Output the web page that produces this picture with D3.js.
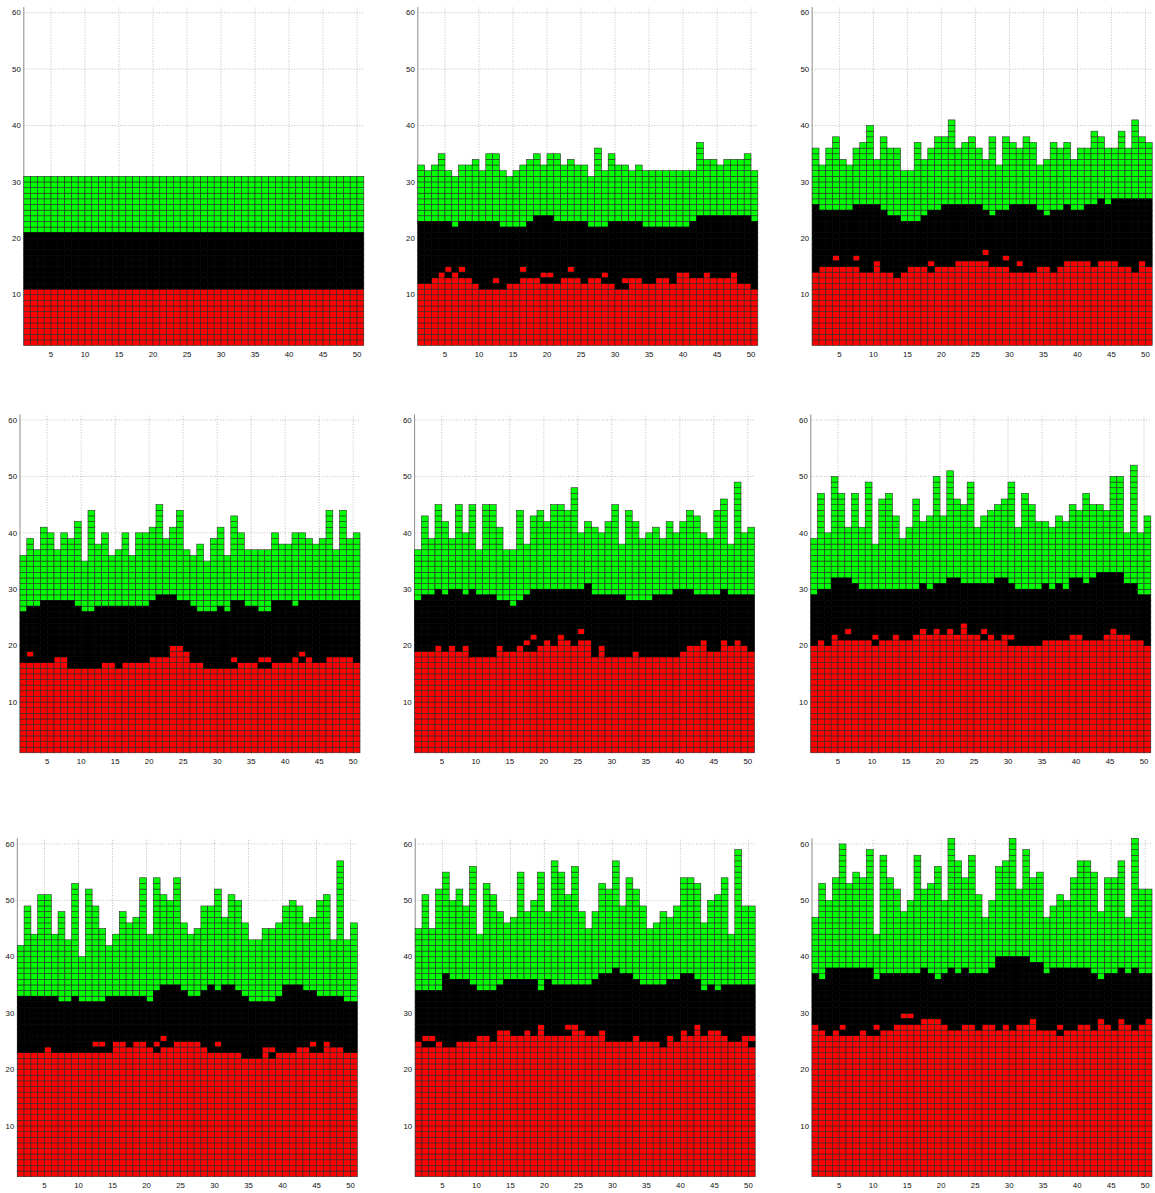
<!DOCTYPE html>
<html><head><meta charset="utf-8">
<script src="https://cdn.jsdelivr.net/npm/d3@7"></script>
<style>body{margin:0;background:#fff}svg{display:block}</style>
</head><body>
<svg id="chart" width="1155" height="1193"></svg>
<script>
// ---------- data ----------
const columns = d3.range(1, 51);
const xTicks = [5, 10, 15, 20, 25, 30, 35, 40, 45, 50];
const yTicks = [10, 20, 30, 40, 50, 60];

// top edge (upper boundary) of the contiguous red stack, per column, per panel
const redTop = [
 [11,11,11,11,11,11,11,11,11,11,11,11,11,11,11,11,11,11,11,11,11,11,11,11,11,11,11,11,11,11,11,11,11,11,11,11,11,11,11,11,11,11,11,11,11,11,11,11,11,11],
 [12,12,13,14,13,14,13,13,12,11,11,11,11,12,12,13,13,13,12,12,12,13,13,13,12,13,13,12,12,11,11,13,13,12,12,13,13,12,14,14,13,13,14,13,13,13,14,12,12,11],
 [14,15,15,15,15,15,15,14,14,16,14,14,13,14,15,15,15,14,15,15,15,16,16,16,16,16,15,15,15,14,14,14,14,15,15,14,15,16,16,16,16,15,16,16,16,15,15,14,16,15],
 [17,17,17,17,17,18,18,16,16,16,16,16,17,17,16,17,17,17,17,18,18,18,20,20,19,17,17,16,16,16,16,16,17,17,17,16,16,17,17,17,18,17,18,17,17,18,18,18,18,17],
 [19,19,19,20,19,20,19,20,18,18,18,18,20,19,19,20,19,19,20,21,20,22,21,20,21,21,18,20,18,18,18,18,19,18,18,18,18,18,18,19,20,20,21,19,19,21,20,21,20,19],
 [20,21,20,22,21,21,21,21,21,20,21,21,22,21,21,22,23,22,23,22,23,22,24,22,22,21,22,21,22,20,20,20,20,20,21,21,21,21,22,22,21,21,21,22,23,22,22,21,21,20],
 [23,23,23,23,24,23,23,23,23,23,23,23,23,23,25,25,24,25,25,24,23,24,24,25,25,25,25,24,23,23,23,23,23,22,22,22,24,24,23,23,23,24,24,23,23,25,24,24,23,23],
 [25,24,24,25,24,24,25,25,25,26,26,25,27,27,26,26,27,26,28,26,26,26,26,28,27,26,26,27,25,25,25,25,26,25,25,25,24,26,25,27,26,28,26,27,27,26,25,25,26,26],
 [28,27,26,27,28,26,26,27,26,26,27,27,28,28,28,28,29,29,29,28,27,27,28,28,27,28,28,27,28,27,28,28,29,27,27,27,28,27,27,28,28,27,29,28,27,29,28,27,28,29]
];
// top edge of the black band (= bottom edge of green)
const blackTop = [
 [21,21,21,21,21,21,21,21,21,21,21,21,21,21,21,21,21,21,21,21,21,21,21,21,21,21,21,21,21,21,21,21,21,21,21,21,21,21,21,21,21,21,21,21,21,21,21,21,21,21],
 [23,23,23,23,23,22,23,23,23,23,23,23,22,22,22,22,23,24,24,24,23,23,23,23,23,22,22,22,23,23,23,23,23,22,22,22,22,22,22,22,23,24,24,24,24,24,24,24,24,23],
 [26,25,25,25,25,25,26,26,26,26,25,24,24,23,23,23,24,25,25,26,26,26,26,26,26,25,24,25,25,26,26,26,26,25,24,25,25,26,25,25,26,26,27,26,27,27,27,27,27,27],
 [26,27,27,28,28,28,28,28,27,26,26,27,27,27,27,27,27,27,27,28,29,29,29,28,28,27,26,26,26,27,26,28,28,27,27,26,26,28,28,28,27,28,28,28,28,28,28,28,28,28],
 [28,29,29,30,29,30,30,29,30,29,29,29,28,28,27,28,29,30,30,30,30,30,30,30,30,31,29,29,29,29,29,28,28,28,28,29,29,29,30,30,30,29,29,29,29,30,29,29,29,29],
 [29,30,30,32,32,32,31,30,30,30,30,30,30,30,30,30,31,30,31,31,32,32,31,31,31,31,31,32,32,31,30,30,30,30,31,30,31,30,32,32,31,32,33,33,33,33,31,31,29,29],
 [33,33,33,33,33,33,32,32,33,32,32,32,32,33,33,33,33,33,33,32,34,35,35,35,34,33,33,34,35,34,35,35,34,33,32,32,32,32,33,35,35,35,34,34,33,33,33,33,32,32],
 [34,34,34,34,37,36,36,36,35,34,34,34,35,36,36,36,36,36,34,36,35,35,35,35,35,35,36,37,37,38,37,37,36,35,35,35,35,36,36,37,37,36,34,35,34,35,35,35,35,35],
 [37,36,38,38,38,38,38,38,38,36,37,37,37,37,37,37,38,37,36,37,38,37,38,37,37,37,38,40,40,40,40,40,39,39,37,38,38,38,38,38,38,37,36,37,37,38,37,38,37,37]
];
// top edge of the green stack
const greenTop = [
 [31,31,31,31,31,31,31,31,31,31,31,31,31,31,31,31,31,31,31,31,31,31,31,31,31,31,31,31,31,31,31,31,31,31,31,31,31,31,31,31,31,31,31,31,31,31,31,31,31,31],
 [33,32,33,35,32,31,33,33,34,32,35,35,32,31,32,33,34,35,33,35,35,33,34,33,33,31,36,32,35,33,33,32,33,32,32,32,32,32,32,32,32,37,34,34,33,34,34,34,35,32],
 [36,33,36,38,34,33,36,37,40,34,38,36,36,32,32,37,34,36,38,38,41,36,37,38,36,34,38,33,38,37,36,38,37,33,34,37,36,37,34,36,36,39,38,36,36,39,36,41,38,37],
 [36,39,37,41,40,37,40,39,42,35,44,38,40,36,37,40,36,40,40,41,45,39,41,44,37,36,38,35,39,41,36,43,40,37,37,37,37,40,38,38,40,40,39,38,39,44,37,44,39,40],
 [37,43,39,45,42,39,45,40,45,37,45,45,41,37,37,44,38,43,44,42,45,45,44,48,40,42,41,40,42,45,38,44,42,39,40,41,39,42,40,42,44,43,40,39,44,46,38,49,40,41],
 [39,47,40,50,47,41,47,41,49,38,46,47,43,39,41,46,42,43,50,43,51,46,45,49,41,43,44,45,46,49,41,47,45,42,42,41,43,42,45,44,47,45,45,44,50,50,40,52,40,43],
 [42,49,44,51,51,44,48,43,53,40,52,49,45,42,44,48,46,47,54,44,54,51,50,54,46,44,45,49,49,52,47,51,50,46,43,43,45,45,46,49,50,49,46,47,50,51,43,57,43,46],
 [45,51,45,52,55,50,52,49,56,44,53,51,48,46,47,55,48,50,55,48,57,55,51,56,48,45,48,53,52,57,49,54,52,49,45,46,48,47,49,54,54,53,46,50,51,54,44,59,49,49],
 [47,53,50,54,60,53,55,54,59,44,58,54,52,48,50,58,52,53,56,50,61,57,54,58,51,47,50,56,57,61,52,59,54,55,47,49,51,50,54,57,57,55,48,54,54,57,47,61,52,52]
];
// isolated red cells inside the black band: [column, row]
const redIslands = [
 [],
 [[5,14],[7,14],[12,12],[16,14],[19,13],[20,13],[23,14],[28,13],[31,12]],
 [[4,16],[7,16],[18,15],[26,17],[29,16],[31,15]],
 [[2,18],[32,17],[36,17],[37,17],[42,18]],
 [[17,20],[18,21],[25,22]],
 [[6,22],[10,21],[26,22],[30,21]],
 [[12,24],[13,24],[21,24],[22,25],[30,24],[44,24]],
 [[2,25],[3,25],[23,27]],
 [[10,27],[14,29],[15,29]]
];
// black cells inside the red stack: [column, row]
const blackHoles = [
 [], [], [], [], [], [],
 [[38,22]],
 [[50,24]],
 [[5,26],[37,26]]
];

// ---------- layout ----------
const panelLeft = [23.8, 417.8, 812.2, 20, 414.6, 810.8, 17.3, 415.2, 812];
const rowBottom = [345.5, 752.8, 1176.7];
const panelW = 340, panelH = 338.4;
const colors = {r: "#ff0000", k: "#000000", g: "#00ff00"};
const edge = {r: "#2a2a2a", k: "#000000", g: "#2a2a2a"};

const svg = d3.select("#chart");

redTop.forEach((_, p) => {
  const left = panelLeft[p], bottom = rowBottom[Math.floor(p / 3)];
  const x = d3.scaleLinear().domain([1, 51]).range([left, left + panelW]);
  const y = d3.scaleLinear().domain([1, 61]).range([bottom, bottom - panelH]);
  const g = svg.append("g");

  // grid
  g.selectAll("line.vg").data(xTicks).join("line")
    .attr("x1", d => x(d)).attr("x2", d => x(d))
    .attr("y1", y(1)).attr("y2", y(61))
    .attr("stroke", "#b0b0b0").attr("stroke-width", 0.8).attr("stroke-dasharray", "1,1.6");
  g.selectAll("line.hg").data(yTicks).join("line")
    .attr("x1", x(1)).attr("x2", x(51))
    .attr("y1", d => y(d)).attr("y2", d => y(d))
    .attr("stroke", "#b0b0b0").attr("stroke-width", 0.8).attr("stroke-dasharray", "1,1.6");
  // left axis line
  g.append("line").attr("x1", x(1)).attr("x2", x(1)).attr("y1", y(1)).attr("y2", y(61))
    .attr("stroke", "#8a8a8a").attr("stroke-width", 1);

  // cells
  const cells = [];
  columns.forEach((c, i) => {
    for (let r = 1; r < greenTop[p][i]; r++) {
      let col = r < redTop[p][i] ? "r" : (r < blackTop[p][i] ? "k" : "g");
      cells.push({c, r, col});
    }
  });
  const key = (c, r) => c + "_" + r;
  const idx = new Map(cells.map((d, i) => [key(d.c, d.r), i]));
  redIslands[p].forEach(([c, r]) => { const k = idx.get(key(c, r)); if (k !== undefined) cells[k].col = "r"; });
  blackHoles[p].forEach(([c, r]) => { const k = idx.get(key(c, r)); if (k !== undefined) cells[k].col = "k"; });
  cells.sort((a, b) => (a.col === "k") - (b.col === "k"));

  g.selectAll("rect").data(cells).join("rect")
    .attr("x", d => x(d.c)).attr("y", d => y(d.r + 1))
    .attr("width", d => x(d.c + 1) - x(d.c)).attr("height", d => y(d.r) - y(d.r + 1))
    .attr("fill", d => colors[d.col])
    .attr("stroke", d => edge[d.col]).attr("stroke-width", 0.6);

  // tick labels
  g.selectAll("text.yl").data(yTicks).join("text")
    .attr("x", x(1) - 3).attr("y", d => y(d)).attr("dy", "0.35em")
    .attr("text-anchor", "end")
    .attr("font-family", "Liberation Sans, Arial, sans-serif").attr("font-size", 7.8).attr("fill", "#111")
    .text(d => d);
  g.selectAll("text.xl").data(xTicks).join("text")
    .attr("x", d => x(d)).attr("y", y(1) + 11.5)
    .attr("text-anchor", "middle")
    .attr("font-family", "Liberation Sans, Arial, sans-serif").attr("font-size", 7.8).attr("fill", "#111")
    .text(d => d);
});
</script>
</body></html>
